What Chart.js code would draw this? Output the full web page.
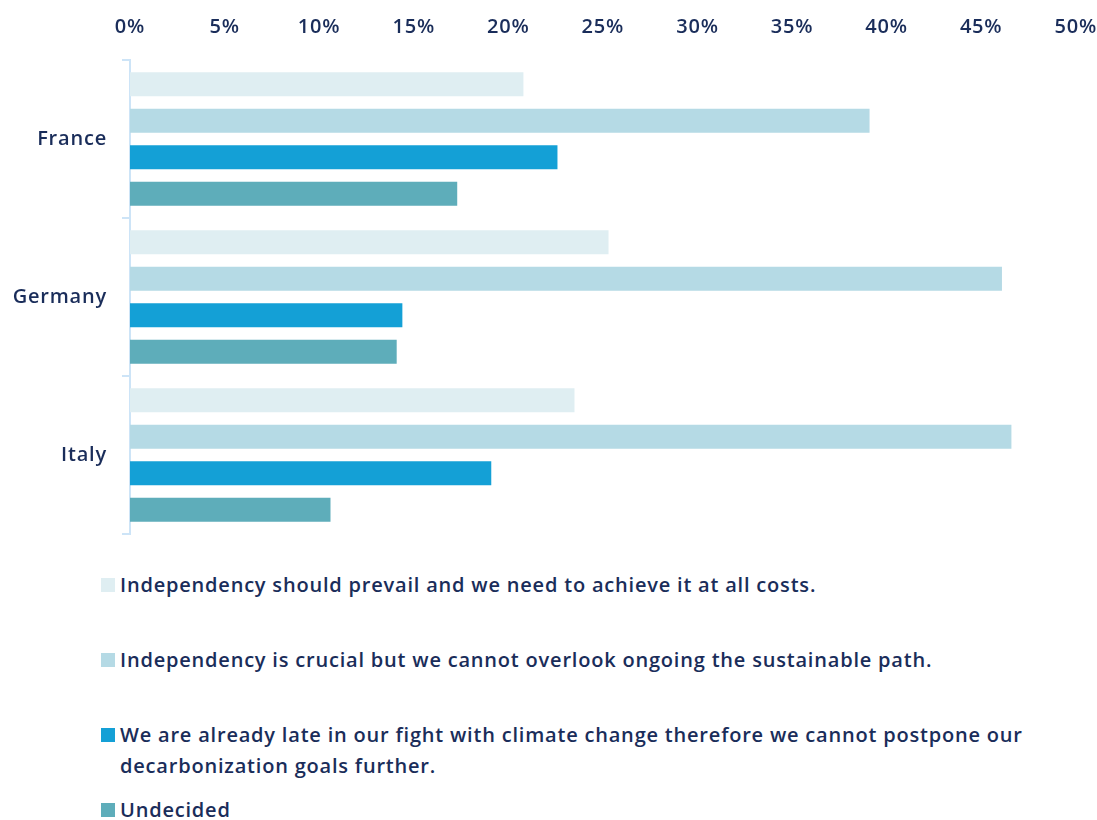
<!DOCTYPE html>
<html lang="en">
<head>
    <meta charset="UTF-8">
    <title>Independency vs decarbonization</title>
    <script src="https://cdn.jsdelivr.net/npm/chart.js"></script>
    <style>
        body {
            margin: 0;
            background: #fff;
            font-family: 'Open Sans', sans-serif;
            color: #1a2d5a;
            overflow: hidden;
        }
        .chart-box {
            position: relative;
            width: 1110px;
            height: 561px;
        }
        #legend {
            margin-left: 101px;
            padding-top: 8px;
            width: 940px;
        }
        .item {
            display: flex;
            align-items: flex-start;
            min-height: 62px;
            margin-bottom: 13px;
            font-size: 20px;
            font-weight: 600;
            line-height: 31px;
            letter-spacing: 0.8px;
        }
        .item:last-child { min-height: 0; }
        .swatch {
            flex: none;
            width: 14px;
            height: 14px;
            margin-top: 9px;
            margin-right: 5px;
        }
    </style>
</head>
<body>
    <div class="chart-box"><canvas id="grafico"></canvas></div>
    <div id="legend"></div>

    <script>
        const paesi = ['France', 'Germany', 'Italy'];
        const etichette = [
            'Independency should prevail and we need to achieve it at all costs.',
            'Independency is crucial but we cannot overlook ongoing the sustainable path.',
            'We are already late in our fight with climate change therefore we cannot postpone our decarbonization goals further.',
            'Undecided'
        ];
        const prevale = [20.8, 25.3, 23.5];
        const cruciale = [39.1, 46.1, 46.6];
        const inRitardo = [22.6, 14.4, 19.1];
        const indecisi = [17.3, 14.1, 10.6];
        const colori = ['#dfeef2', '#b5dae5', '#14a0d6', '#5eadba'];

        const serie = [prevale, cruciale, inRitardo, indecisi];
        const testo = '#1a2d5a';
        const fontAssi = { family: 'Open Sans', size: 20, weight: '600' };

        // spaziatura lettere come nel font originale (più largo)
        const spaziatura = {
            id: 'spaziatura',
            beforeUpdate(chart) { chart.ctx.letterSpacing = '0.8px'; },
            beforeDraw(chart) { chart.ctx.letterSpacing = '0.8px'; }
        };

        const ctx = document.getElementById('grafico').getContext('2d');
        new Chart(ctx, {
            type: 'bar',
            data: {
                labels: paesi,
                datasets: serie.map((valori, i) => ({
                    label: etichette[i],
                    data: valori,
                    backgroundColor: colori[i],
                    borderWidth: 0,
                    categoryPercentage: 0.924,
                    barPercentage: 0.66
                }))
            },
            options: {
                indexAxis: 'y',
                responsive: true,
                maintainAspectRatio: false,
                animation: false,
                layout: { padding: { left: 11, right: 0, top: 2, bottom: 0 } },
                plugins: {
                    legend: { display: false },
                    tooltip: { enabled: false }
                },
                scales: {
                    x: {
                        position: 'top',
                        min: 0,
                        max: 50,
                        grid: { display: false },
                        border: { display: false },
                        ticks: {
                            stepSize: 5,
                            padding: 13,
                            color: testo,
                            font: fontAssi,
                            callback: v => v + '%'
                        }
                    },
                    y: {
                        afterFit(scale) { scale.width = 119; },
                        grid: {
                            offset: true,
                            drawOnChartArea: false,
                            tickLength: 8,
                            color: '#cde4f7',
                            lineWidth: 2
                        },
                        border: { color: '#cde4f7', width: 2 },
                        ticks: {
                            padding: 15,
                            color: testo,
                            font: fontAssi
                        }
                    }
                }
            },
            plugins: [spaziatura]
        });

        const legenda = document.getElementById('legend');
        etichette.forEach((t, i) => {
            const riga = document.createElement('div');
            riga.className = 'item';
            const q = document.createElement('span');
            q.className = 'swatch';
            q.style.background = colori[i];
            const s = document.createElement('span');
            s.textContent = t;
            riga.appendChild(q);
            riga.appendChild(s);
            legenda.appendChild(riga);
        });
    </script>
</body>
</html>
